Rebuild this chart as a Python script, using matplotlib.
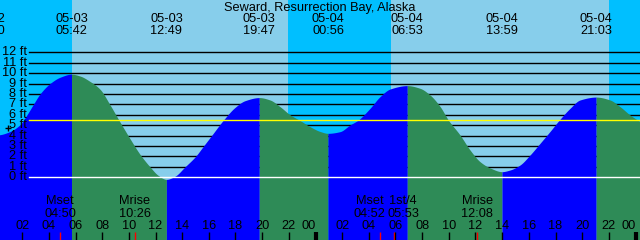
import numpy as np
import matplotlib
matplotlib.use("Agg")
import matplotlib.pyplot as plt
from matplotlib.transforms import blended_transform_factory

plt.rcParams['font.family'] = ['Liberation Sans', 'DejaVu Sans']

# ---------------- data ----------------
title = "Seward, Resurrection Bay, Alaska"

# tide extremes: date, time, height (ft)
ext_dates = ["05-02", "05-03", "05-03", "05-03", "05-04", "05-04", "05-04", "05-04"]
ext_times = ["23:30", "05:42", "12:49", "19:47", "00:56", "06:53", "13:59", "21:03"]
ext_ft = [4.00, 9.90, -0.20, 7.65, 4.22, 8.80, 0.54, 7.70]

# tide curve samples between extremes: hours since 05-03 00:00, height (ft)
curve_hours = [0.34, 1.09, 1.84, 2.36, 2.84, 3.34, 4.09, 4.84,
               6.34, 7.09, 7.84, 8.59, 9.09, 9.34, 10.09, 10.84, 11.59, 12.19,
               13.46, 14.21, 15.00, 15.60, 16.20, 17.10, 17.96, 18.71,
               20.59, 21.34, 22.09, 22.84, 23.59, 24.34,
               25.84, 26.59, 27.21, 28.09, 28.84, 29.59,
               31.84, 32.59, 33.34, 33.96, 34.84, 35.59, 36.34, 37.09,
               38.59, 39.34, 40.09, 40.84, 41.59, 42.29, 43.09, 43.84,
               46.09, 46.84, 47.59, 48.34]
curve_ft = [4.09, 4.40, 5.05, 6.00, 7.00, 8.00, 9.00, 9.60,
            9.72, 9.20, 8.45, 6.95, 5.85, 5.30, 3.70, 2.20, 1.00, 0.20,
            0.10, 1.00, 2.00, 3.00, 4.00, 5.50, 6.70, 7.35,
            7.42, 6.78, 6.00, 5.45, 4.86, 4.40,
            4.38, 5.02, 5.50, 6.62, 7.74, 8.47,
            8.54, 7.90, 6.80, 5.50, 4.06, 2.62, 1.50, 0.90,
            0.70, 1.18, 2.14, 3.26, 4.40, 5.50, 6.62, 7.42,
            7.42, 6.78, 5.98, 5.34]

sunrise = ["05-03 05:44", "05-04 05:40"]
sunset = ["05-03 21:56", "05-04 22:00"]

moon_names = ["Mset", "Mrise", "Mset", "1st/4", "Mrise"]
moon_times = ["05-03 04:50", "05-03 10:26", "05-04 04:52", "05-04 05:53", "05-04 12:08"]

ft_levels = list(range(0, 13))
mean_level_ft = 5.5
now_hour, now_ft = 0.94, 4.70
hour_ticks = list(range(2, 49, 2))

# ---------------- helpers ----------------
def to_hours(date, hm):
    day = int(date.split("-")[1])
    hh, mm = hm.split(":")
    return (day - 3) * 24 + int(hh) + int(mm) / 60.0

def dt_hours(s):
    d, t = s.split()
    return to_hours(d, t)

def smooth_line(x, y, per=12):
    """Monotone cubic (Fritsch-Carlson) rendering of a line through the points."""
    x = np.asarray(x, float); y = np.asarray(y, float)
    h = np.diff(x); d = np.diff(y) / h
    m = np.zeros_like(y)
    for k in range(1, len(y) - 1):
        if d[k - 1] * d[k] > 0:
            w1 = 2 * h[k] + h[k - 1]; w2 = h[k] + 2 * h[k - 1]
            m[k] = (w1 + w2) / (w1 / d[k - 1] + w2 / d[k])
    m[0], m[-1] = d[0], d[-1]
    xs, ys = [], []
    for k in range(len(h)):
        t = np.linspace(0, 1, per, endpoint=False)
        h00 = 2 * t**3 - 3 * t**2 + 1; h10 = t**3 - 2 * t**2 + t
        h01 = -2 * t**3 + 3 * t**2; h11 = t**3 - t**2
        xs.append(x[k] + t * h[k])
        ys.append(h00 * y[k] + h10 * h[k] * m[k] + h01 * y[k + 1] + h11 * h[k] * m[k + 1])
    xs.append([x[-1]]); ys.append([y[-1]])
    return np.concatenate(xs), np.concatenate(ys)

# pixel geometry
W, H = 640, 240
PPH = 40.0 / 3.0          # pixels per hour
X_OFF = -4.5              # pixel of 05-03 00:00
Y0_PX, PPF = 177.3, 10.42  # pixel of 0 ft, pixels per foot

def yfrac(ypx):
    return 1 - ypx / H

def xpx_to_h(xpx):
    return (xpx - X_OFF) / PPH

NIGHT = "#00BFFF"
DAY = "#87CEEB"
RISE = "#0000FF"
FALL = "#2E8B57"
FS = 9.2

fig = plt.figure(figsize=(6.4, 2.4), dpi=100)
ax = fig.add_axes([0, 0, 1, 1])
xmin, xmax = xpx_to_h(0), xpx_to_h(W)
ymax, ymin = Y0_PX / PPF, (Y0_PX - H) / PPF
ax.set_xlim(xmin, xmax)
ax.set_ylim(ymin, ymax)
ax.axis('off')

# sky
rise_h = [dt_hours(s) for s in sunrise]
set_h = [dt_hours(s) for s in sunset]
edges = [xmin] + sorted(rise_h + set_h) + [xmax]
for i in range(len(edges) - 1):
    ax.axvspan(edges[i], edges[i + 1], color=NIGHT if i % 2 == 0 else DAY, lw=0, zorder=0)

# foot lines
line_start = 29.3 / W
for lv in ft_levels[1:]:
    ax.axhline(lv, xmin=line_start, xmax=1, color="black", lw=1.0, zorder=1)

# tide curve
ext_h = [to_hours(d, t) for d, t in zip(ext_dates, ext_times)]
t_all = np.array(curve_hours + ext_h)
f_all = np.array(curve_ft + ext_ft)
order = np.argsort(t_all)
t_all, f_all = t_all[order], f_all[order]
ts, fs = smooth_line(t_all, f_all)

bounds = ext_h + [ts.max() + 1]
for i in range(len(bounds) - 1):
    m = (ts >= bounds[i] - 1e-9) & (ts <= bounds[i + 1] + 1e-9)
    rising = ext_ft[i] < ext_ft[i + 1] if i + 1 < len(ext_ft) else ext_ft[i] < f_all[-1]
    ax.fill_between(ts[m], ymin, fs[m], color=RISE if rising else FALL,
                    lw=0, zorder=2)

ax.axhline(0, xmin=line_start, xmax=1, color="white", lw=1.0, zorder=3)
ax.axhline(mean_level_ft, xmin=line_start, xmax=1, color="yellow", lw=1.0, zorder=3)

# y labels
yt = blended_transform_factory(ax.transAxes, ax.transData)
for lv in ft_levels:
    ax.text(26.9 / W, lv, f"{lv} ft", transform=yt, ha="right", va="center",
            fontsize=FS, zorder=5)

ax.plot([now_hour], [now_ft], marker="+", color="black", ms=4.5, mew=1.0, zorder=6)

# title and extreme labels
ax.text(0.5, yfrac(8), title, transform=ax.transAxes, ha="center", va="center",
        fontsize=FS, zorder=5)
xt = blended_transform_factory(ax.transData, ax.transAxes)
for d, t, h in zip(ext_dates, ext_times, ext_h):
    ax.text(h, yfrac(19.5), d, transform=xt, ha="center", va="center", fontsize=FS,
            zorder=5, clip_on=False)
    ax.text(h, yfrac(31.5), t, transform=xt, ha="center", va="center", fontsize=FS,
            zorder=5, clip_on=False)

# moon events
moon_dx_px = [0, 0, -11, 9, 0]
for name, s, dx in zip(moon_names, moon_times, moon_dx_px):
    h = dt_hours(s)
    ax.plot([h, h], [(Y0_PX - 231.5) / PPF, ymin], color="red", lw=1.0, zorder=4,
            solid_capstyle="butt")
    ax.text(h + dx / PPH, yfrac(201.3), name, transform=xt, ha="center", va="center",
            fontsize=FS, zorder=5)
    ax.text(h + dx / PPH, yfrac(213.7), s.split()[1], transform=xt, ha="center",
            va="center", fontsize=FS, zorder=5)

# hour ticks
for h in hour_ticks:
    hh = h % 24
    ax.plot([h, h], [(Y0_PX - 232) / PPF, ymin], color="black",
            lw=3.0 if hh == 0 else 1.0, zorder=4, solid_capstyle="butt")
    ax.text(h, yfrac(226), f"{hh:02d}", transform=xt,
            ha="right" if hh == 0 else "center", va="center", fontsize=FS, zorder=5)

fig.savefig("out.png", dpi=100)
